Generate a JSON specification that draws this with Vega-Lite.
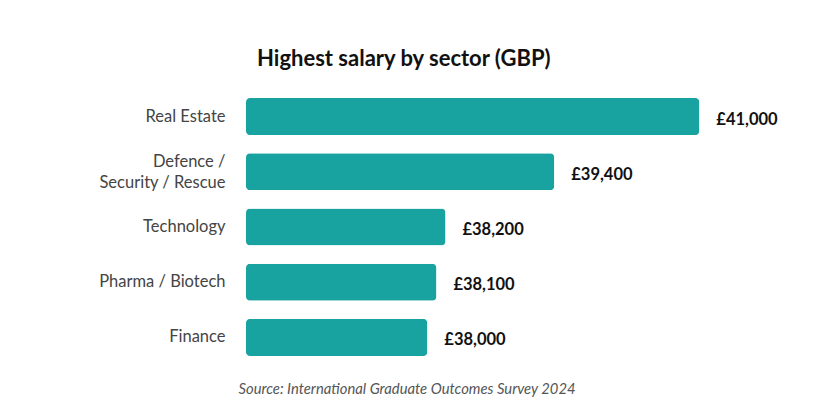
{
  "$schema": "https://vega.github.io/schema/vega-lite/v6.json",
  "autosize": "none",
  "width": 544,
  "height": 276,
  "padding": {"left": 246, "top": 89, "right": 35, "bottom": 49},
  "background": "white",
  "title": {
    "text": "Highest salary by sector (GBP)",
    "anchor": "start",
    "frame": "group",
    "dx": 11,
    "offset": 18,
    "font": "Lato",
    "fontSize": 22,
    "fontWeight": "bold",
    "color": "#111111"
  },
  "config": {
    "view": {"stroke": null},
    "font": "Lato"
  },
  "data": {
    "values": [
      {"sector": "Real Estate", "salary": 41000},
      {"sector": "Defence / Security / Rescue", "salary": 39400},
      {"sector": "Technology", "salary": 38200},
      {"sector": "Pharma / Biotech", "salary": 38100},
      {"sector": "Finance", "salary": 38000}
    ]
  },
  "transform": [
    {"calculate": "'£' + format(datum.salary, ',')", "as": "label"}
  ],
  "encoding": {
    "y": {
      "field": "sector",
      "type": "nominal",
      "sort": null,
      "scale": {"paddingInner": 0.33, "paddingOuter": 0.165},
      "axis": {
        "title": null,
        "ticks": false,
        "domain": false,
        "labelPadding": 21,
        "labelFontSize": 16.5,
        "labelColor": "#444444",
        "labelLineHeight": 21,
        "labelOffset": {"condition": {"test": "datum.value == 'Defence / Security / Rescue'", "value": -10}, "value": 0},
        "labelExpr": "datum.value == 'Defence / Security / Rescue' ? ['Defence /', 'Security / Rescue'] : datum.value"
      }
    },
    "x": {
      "field": "salary",
      "type": "quantitative",
      "scale": {"domain": [36000, 42000], "zero": false, "clamp": true},
      "axis": {
        "labels": false,
        "ticks": false,
        "domain": false,
        "grid": false,
        "title": "Source: International Graduate Outcomes Survey 2024",
        "titleFont": "Lato",
        "titleFontStyle": "italic",
        "titleFontWeight": "normal",
        "titleFontSize": 14.8,
        "titleColor": "#555555",
        "titleAnchor": "start",
        "titleAlign": "left",
        "titleX": -8,
        "titlePadding": 16
      }
    }
  },
  "layer": [
    {
      "mark": {"type": "bar", "color": "#18a2a0", "cornerRadius": 4}
    },
    {
      "mark": {"type": "text", "align": "left", "baseline": "middle", "dx": 17, "dy": 3, "fontSize": 16.5, "fontWeight": "bold", "color": "#111111"},
      "encoding": {"text": {"field": "label"}}
    }
  ]
}
